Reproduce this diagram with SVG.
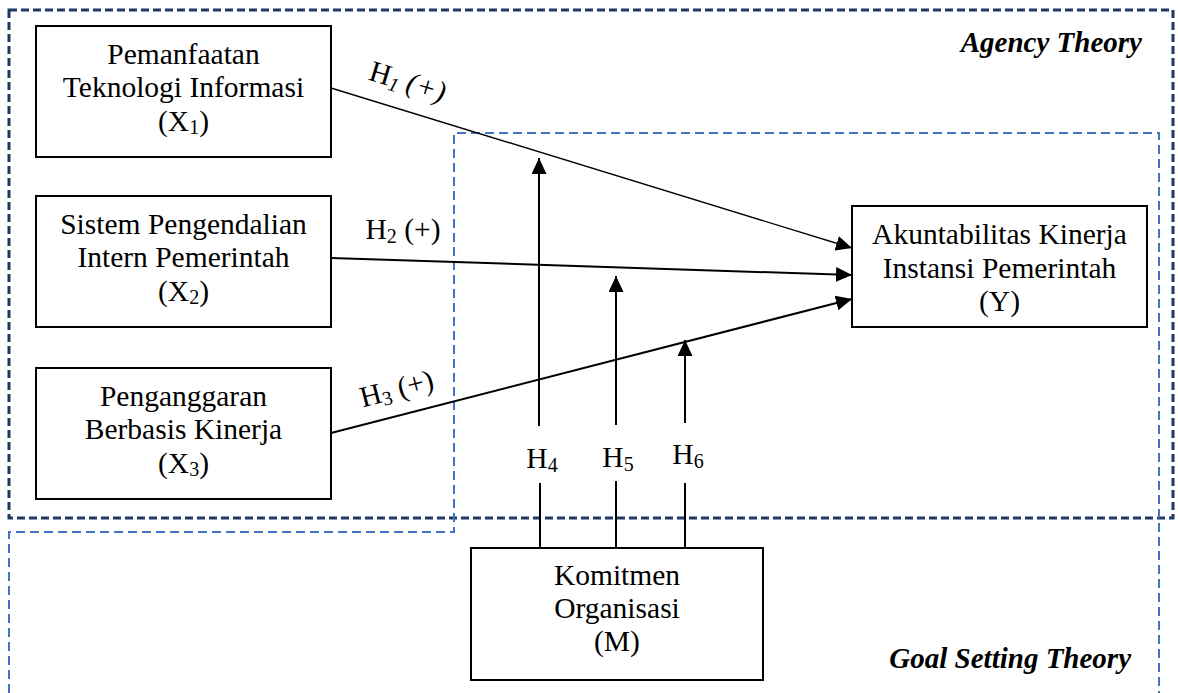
<svg xmlns="http://www.w3.org/2000/svg" width="1178" height="693" viewBox="0 0 1178 693">
<style>
.box{fill:#fff;stroke:#000;stroke-width:2}
.t{font-family:"Liberation Serif","Times New Roman",serif;font-size:29.5px;fill:#000;text-anchor:middle}
.th{font-family:"Liberation Serif","Times New Roman",serif;font-size:29px;font-weight:bold;font-style:italic;fill:#000;text-anchor:end}
.sub{font-size:20px}
.c{stroke:#000;fill:none}
</style>
<defs>
<marker id="ah" markerUnits="userSpaceOnUse" markerWidth="16" markerHeight="15" refX="16" refY="7.5" orient="auto">
<path d="M0,0 L16,7.5 L0,15 Z" fill="#000"/>
</marker>
</defs>
<rect width="1178" height="693" fill="#fff"/>
<g id="frames">
<rect x="9" y="10" width="1164" height="508" fill="none" stroke="#203864" stroke-width="3" stroke-dasharray="8,4"/>
<polyline points="9,693 9,532 454,532 454,133 1159,133 1159,693" fill="none" stroke="#4472c4" stroke-width="2" stroke-dasharray="9,5"/>
<text class="th" x="1142" y="52">Agency Theory</text>
<text class="th" x="1131" y="668">Goal Setting Theory</text>
</g>
<g id="connectors">
<line class="c" x1="331" y1="88" x2="852" y2="248" stroke-width="1.4" marker-end="url(#ah)"/>
<line class="c" x1="331" y1="258" x2="852" y2="275" stroke-width="2" marker-end="url(#ah)"/>
<line class="c" x1="331" y1="433" x2="852" y2="299" stroke-width="2" marker-end="url(#ah)"/>
<line class="c" x1="539" y1="426" x2="539" y2="158" stroke-width="2" marker-end="url(#ah)"/>
<line class="c" x1="540" y1="483" x2="540" y2="548" stroke-width="2"/>
<line class="c" x1="616" y1="425" x2="616" y2="276" stroke-width="2" marker-end="url(#ah)"/>
<line class="c" x1="616" y1="481" x2="616" y2="548" stroke-width="2"/>
<line class="c" x1="685" y1="423" x2="685" y2="340" stroke-width="2" marker-end="url(#ah)"/>
<line class="c" x1="685" y1="483" x2="685" y2="548" stroke-width="2"/>
<text class="t" transform="rotate(17 405 91)" x="405" y="91">H<tspan class="sub" dy="4" font-style="italic">1</tspan><tspan dy="-4" font-style="italic"> (+)</tspan></text>
<text class="t" x="403" y="239">H<tspan class="sub" dy="4">2</tspan><tspan dy="-4"> (+)</tspan></text>
<text class="t" transform="rotate(-14.6 399 398)" x="399" y="398">H<tspan class="sub" dy="4">3</tspan><tspan dy="-4"> (+)</tspan></text>
<text class="t" x="542" y="468">H<tspan class="sub" dy="4">4</tspan></text>
<text class="t" x="618" y="467">H<tspan class="sub" dy="4">5</tspan></text>
<text class="t" x="688" y="464">H<tspan class="sub" dy="4">6</tspan></text>
</g>
<g id="x1">
<rect class="box" x="36" y="26" width="295" height="131"/>
<text class="t" x="183.5" y="64">Pemanfaatan</text>
<text class="t" x="183.5" y="97">Teknologi Informasi</text>
<text class="t" x="183.5" y="131">(X<tspan class="sub" dy="3">1</tspan><tspan dy="-3">)</tspan></text>
</g>
<g id="x2">
<rect class="box" x="36" y="196" width="295" height="131"/>
<text class="t" x="183.5" y="234">Sistem Pengendalian</text>
<text class="t" x="183.5" y="267">Intern Pemerintah</text>
<text class="t" x="183.5" y="301">(X<tspan class="sub" dy="3">2</tspan><tspan dy="-3">)</tspan></text>
</g>
<g id="x3">
<rect class="box" x="36" y="368" width="295" height="131"/>
<text class="t" x="183.5" y="406">Penganggaran</text>
<text class="t" x="183.5" y="439">Berbasis Kinerja</text>
<text class="t" x="183.5" y="473">(X<tspan class="sub" dy="3">3</tspan><tspan dy="-3">)</tspan></text>
</g>
<g id="y">
<rect class="box" x="852" y="206" width="295" height="121"/>
<text class="t" x="999.5" y="244">Akuntabilitas Kinerja</text>
<text class="t" x="999.5" y="278">Instansi Pemerintah</text>
<text class="t" x="999.5" y="311">(Y)</text>
</g>
<g id="m">
<rect class="box" x="471" y="548" width="292" height="132"/>
<text class="t" x="617" y="585">Komitmen</text>
<text class="t" x="617" y="618">Organisasi</text>
<text class="t" x="617" y="651">(M)</text>
</g>
</svg>
